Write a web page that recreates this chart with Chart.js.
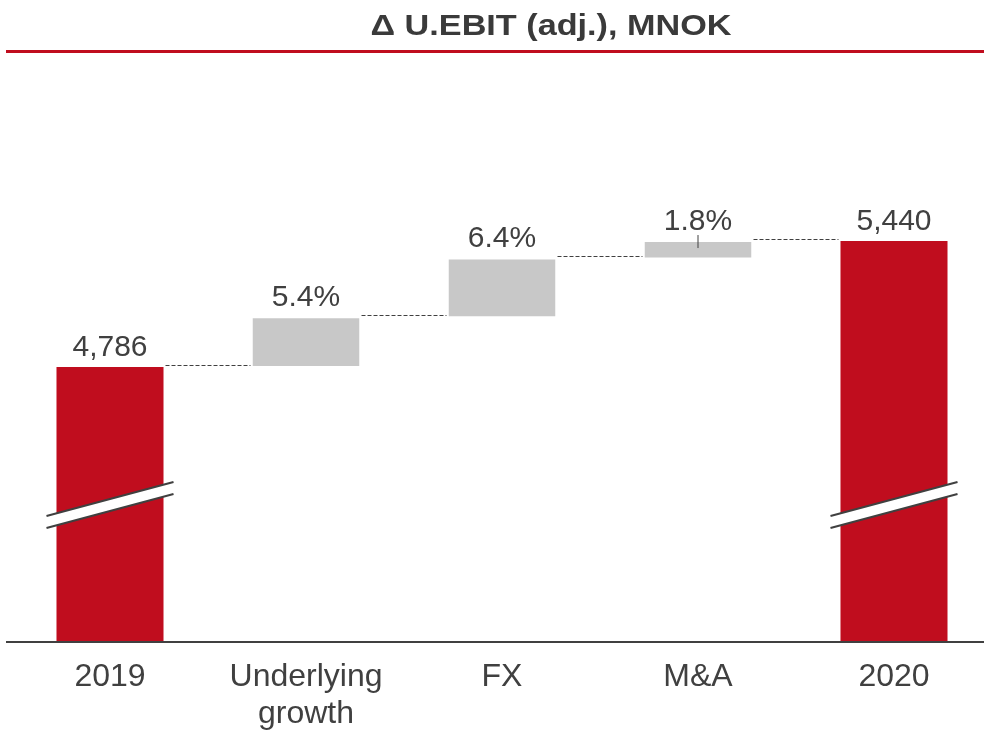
<!DOCTYPE html>
<html>
<head>
<meta charset="utf-8">
<style>
  body { margin: 0; background: #fff; overflow: hidden; }
  canvas { display: block; }
</style>
</head>
<body>
<canvas id="myChart" width="992" height="733"></canvas>

<script src="https://cdn.jsdelivr.net/npm/chart.js"></script>
<script>
    const title = 'Δ U.EBIT (adj.), MNOK';
    const categories = ['2019', ['Underlying', 'growth'], 'FX', 'M&A', '2020'];
    const startValue = 4786;
    const endValue = 5440;
    // underlying growth, FX, M&A (MNOK)
    const steps = [258, 306, 90];
    const stepLabels = ['5.4%', '6.4%', '1.8%'];
    const totalLabels = ['4,786', '5,440'];

    const RED = '#C00D1E';
    const GREY = '#C8C8C8';
    const TEXT = '#404040';
    const FONT = "'Liberation Sans', Arial, sans-serif";

    // build floating bars
    const ranges = [[0, startValue]];
    let level = startValue;
    steps.forEach(s => { ranges.push([level, level + s]); level += s; });
    ranges.push([0, endValue]);
    const colors = [RED, GREY, GREY, GREY, RED];
    const borders = [0, 1, 1, 1, 0].map(b => ({ top: b, bottom: b, left: 0, right: 0 }));
    const valueLabels = [totalLabels[0], ...stepLabels, totalLabels[1]];

    const decorations = {
        id: 'decorations',
        afterDatasetsDraw(chart) {
            const ctx = chart.ctx;
            const area = chart.chartArea;
            const y = chart.scales.y;
            const bars = chart.getDatasetMeta(0).data;
            const right = 984;
            ctx.save();

            // dashed connectors
            ctx.strokeStyle = TEXT;
            ctx.lineWidth = 1;
            ctx.setLineDash([4, 2]);
            for (let i = 0; i < bars.length - 1; i++) {
                const a = bars[i], b = bars[i + 1];
                const v = ranges[i][1];
                const py = Math.round(y.getPixelForValue(v)) - 1.5;
                ctx.beginPath();
                ctx.moveTo(a.x + a.width / 2 + 2, py);
                ctx.lineTo(b.x - b.width / 2 - 2, py);
                ctx.stroke();
            }
            ctx.setLineDash([]);

            // leader tick on M&A
            const m = bars[3];
            const top = y.getPixelForValue(ranges[3][1]);
            ctx.beginPath();
            ctx.moveTo(m.x, top - 6);
            ctx.lineTo(m.x, top + 7);
            ctx.stroke();

            // axis break marks on the total bars
            [bars[0], bars[4]].forEach(b => {
                const x0 = b.x - b.width / 2 - 10;
                const x1 = b.x + b.width / 2 + 10;
                const yc = area.bottom - 137;
                const rise = 34;
                const gap = 12;
                ctx.fillStyle = '#fff';
                ctx.beginPath();
                ctx.moveTo(x0, yc + rise / 2 - gap / 2);
                ctx.lineTo(x1, yc - rise / 2 - gap / 2);
                ctx.lineTo(x1, yc - rise / 2 + gap / 2);
                ctx.lineTo(x0, yc + rise / 2 + gap / 2);
                ctx.closePath();
                ctx.fill();
                ctx.strokeStyle = TEXT;
                ctx.lineWidth = 2;
                ctx.beginPath();
                ctx.moveTo(x0, yc + rise / 2 - gap / 2);
                ctx.lineTo(x1, yc - rise / 2 - gap / 2);
                ctx.moveTo(x0, yc + rise / 2 + gap / 2);
                ctx.lineTo(x1, yc - rise / 2 + gap / 2);
                ctx.stroke();
            });

            // value labels
            ctx.fillStyle = TEXT;
            ctx.font = '30px ' + FONT;
            ctx.textAlign = 'center';
            ctx.textBaseline = 'alphabetic';
            bars.forEach((b, i) => {
                const t = y.getPixelForValue(ranges[i][1]);
                ctx.fillText(valueLabels[i], b.x, t - 11);
            });

            // axis line
            ctx.strokeStyle = TEXT;
            ctx.lineWidth = 2;
            ctx.beginPath();
            ctx.moveTo(6, area.bottom);
            ctx.lineTo(right, area.bottom);
            ctx.stroke();

            // title (wide bold face, stretched to match) + red rule
            ctx.fillStyle = '#3a3a3a';
            ctx.font = 'bold 30px ' + FONT;
            const w = ctx.measureText(title).width;
            ctx.translate(551, 35);
            ctx.scale(361 / w, 1);
            ctx.fillText(title, 0, 0);
            ctx.setTransform(1, 0, 0, 1, 0, 0);
            ctx.fillStyle = RED;
            ctx.fillRect(6, 50, right - 6, 3);
            ctx.restore();
        }
    };

    new Chart(document.getElementById('myChart'), {
        type: 'bar',
        data: {
            labels: categories,
            datasets: [{
                data: ranges,
                backgroundColor: colors,
                borderColor: '#fff',
                borderWidth: borders,
                borderSkipped: false,
                barPercentage: 0.546,
                categoryPercentage: 1.0
            }]
        },
        options: {
            responsive: false,
            devicePixelRatio: 1,
            animation: false,
            layout: { padding: { top: 100, left: 12, right: 0, bottom: 0 } },
            plugins: {
                legend: { display: false },
                tooltip: { enabled: false }
            },
            scales: {
                x: {
                    grid: { display: false },
                    border: { display: false },
                    ticks: {
                        color: TEXT,
                        padding: 9,
                        font: { family: FONT, size: 32, lineHeight: '37px' }
                    },
                    afterFit(scale) { scale.height = 91; }
                },
                y: {
                    display: false,
                    min: 3359,
                    max: 6172
                }
            }
        },
        plugins: [decorations]
    });
</script>
</body>
</html>
